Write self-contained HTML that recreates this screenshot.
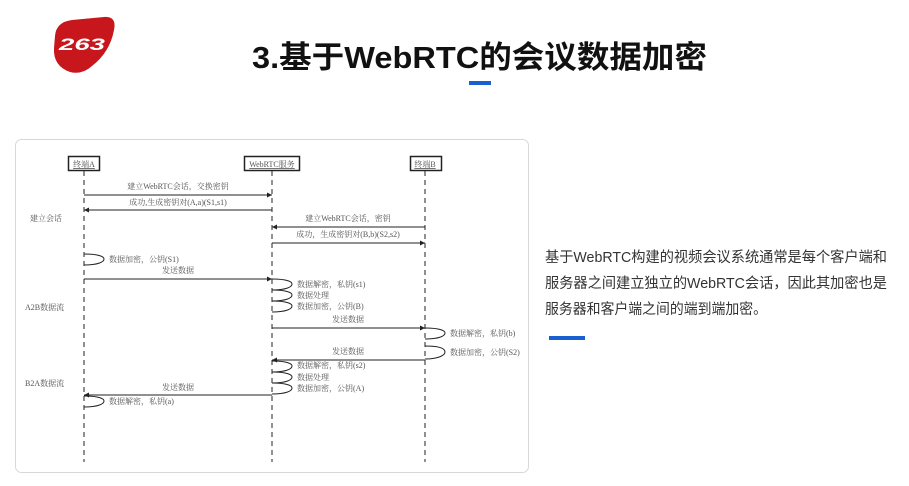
<!DOCTYPE html>
<html><head><meta charset="utf-8"><style>
html,body{margin:0;padding:0;background:#fff;}
svg{display:block;}
</style></head><body>
<svg width="909" height="486" viewBox="0 0 909 486" xmlns="http://www.w3.org/2000/svg" font-family="'Liberation Serif','Noto Serif CJK SC',serif">
<!-- logo -->
<path d="M55 36 Q56 22 72 20 L104 17 Q117 16 114 30 Q110 52 92 66 Q82 75 70 72 Q53 66 54 48 Z" fill="#c8161d"/>
<text x="82" y="50" font-family="'Liberation Sans',sans-serif" font-weight="bold" font-style="italic" font-size="17" fill="#fff" text-anchor="middle" textLength="46" lengthAdjust="spacingAndGlyphs">263</text>
<!-- title -->
<text x="252" y="68" font-family="'Liberation Sans','Noto Sans CJK SC',sans-serif" font-weight="bold" font-size="31" fill="#111" textLength="455" lengthAdjust="spacingAndGlyphs">3.基于WebRTC的会议数据加密</text>
<rect x="469" y="81" width="22" height="4" fill="#1a5fd0"/>
<!-- right text -->
<g font-family="'Liberation Sans','Noto Sans CJK SC',sans-serif" font-size="14.5" fill="#333">
<text x="545" y="262" textLength="342" lengthAdjust="spacingAndGlyphs">基于WebRTC构建的视频会议系统通常是每个客户端和</text>
<text x="545" y="288" textLength="342" lengthAdjust="spacingAndGlyphs">服务器之间建立独立的WebRTC会话，因此其加密也是</text>
<text x="545" y="314" textLength="222" lengthAdjust="spacingAndGlyphs">服务器和客户端之间的端到端加密。</text>
</g>
<rect x="549" y="336" width="36" height="4" fill="#1a5fd0"/>
<!-- panel -->
<rect x="15.5" y="139.5" width="513" height="333" rx="6" fill="#fff" stroke="#d8d8d8"/>
<g fill="none" stroke="#222" stroke-width="1">
<rect x="68.5" y="156.5" width="31" height="14" stroke-width="1.5"/>
<rect x="244.5" y="156.5" width="55" height="14" stroke-width="1.5"/>
<rect x="410.5" y="156.5" width="31" height="14" stroke-width="1.5"/>
<g stroke-dasharray="5,4"><line x1="84" y1="171" x2="84" y2="462"/><line x1="272" y1="171" x2="272" y2="462"/><line x1="425" y1="171" x2="425" y2="462"/></g>
<line x1="84" y1="195" x2="272" y2="195"/>
<line x1="84" y1="210" x2="272" y2="210"/>
<line x1="272" y1="227" x2="425" y2="227"/>
<line x1="272" y1="243" x2="425" y2="243"/>
<line x1="84" y1="279" x2="272" y2="279"/>
<line x1="272" y1="328" x2="425" y2="328"/>
<line x1="272" y1="360" x2="425" y2="360"/>
<line x1="84" y1="395" x2="272" y2="395"/>
<path d="M84 254 C100 254 104 257 104 259 C104 262 98 265 84 265"/>
<path d="M272 279 C288 279 292 282 292 284 C292 287 286 290 272 290"/>
<path d="M272 290 C288 290 292 293 292 295 C292 298 286 301 272 301"/>
<path d="M272 301 C288 301 292 304 292 306 C292 309 286 312 272 312"/>
<path d="M425 328 C441 328 445 331 445 333 C445 336 439 339 425 339"/>
<path d="M425 346 C441 346 445 349 445 352 C445 355 439 359 425 359"/>
<path d="M272 361 C288 361 292 364 292 366 C292 369 286 372 272 372"/>
<path d="M272 372 C288 372 292 375 292 377 C292 380 286 383 272 383"/>
<path d="M272 383 C288 383 292 386 292 388 C292 391 286 394 272 394"/>
<path d="M84 396 C100 396 104 399 104 401 C104 404 98 407 84 407"/>
</g>
<g fill="#222">
<path d="M272 195 l-5 -2.5 v5z"/><path d="M84 210 l5 -2.5 v5z"/><path d="M272 227 l5 -2.5 v5z"/><path d="M425 243 l-5 -2.5 v5z"/>
<path d="M272 279 l-5 -2.5 v5z"/><path d="M425 328 l-5 -2.5 v5z"/><path d="M272 360 l5 -2.5 v5z"/><path d="M84 395 l5 -2.5 v5z"/>
</g>
<g font-size="8" fill="#555">
<text x="84" y="167" text-anchor="middle" text-decoration="underline">终端A</text>
<text x="272" y="167" text-anchor="middle" text-decoration="underline">WebRTC服务</text>
<text x="425" y="167" text-anchor="middle" text-decoration="underline">终端B</text>
<text x="178" y="189" text-anchor="middle">建立WebRTC会话，交换密钥</text>
<text x="178" y="205" text-anchor="middle">成功,生成密钥对(A,a)(S1,s1)</text>
<text x="348" y="221" text-anchor="middle">建立WebRTC会话，密钥</text>
<text x="348" y="237" text-anchor="middle">成功，生成密钥对(B,b)(S2,s2)</text>
<text x="30" y="221">建立会话</text>
<text x="109" y="262">数据加密，公钥(S1)</text>
<text x="178" y="273" text-anchor="middle">发送数据</text>
<text x="297" y="287">数据解密，私钥(s1)</text>
<text x="297" y="298">数据处理</text>
<text x="297" y="309">数据加密，公钥(B)</text>
<text x="25" y="310">A2B数据流</text>
<text x="348" y="322" text-anchor="middle">发送数据</text>
<text x="450" y="336">数据解密，私钥(b)</text>
<text x="348" y="354" text-anchor="middle">发送数据</text>
<text x="450" y="355">数据加密，公钥(S2)</text>
<text x="297" y="368">数据解密，私钥(s2)</text>
<text x="297" y="380">数据处理</text>
<text x="297" y="391">数据加密，公钥(A)</text>
<text x="25" y="386">B2A数据流</text>
<text x="178" y="390" text-anchor="middle">发送数据</text>
<text x="109" y="404">数据解密，私钥(a)</text>
</g>
</svg>
</body></html>
